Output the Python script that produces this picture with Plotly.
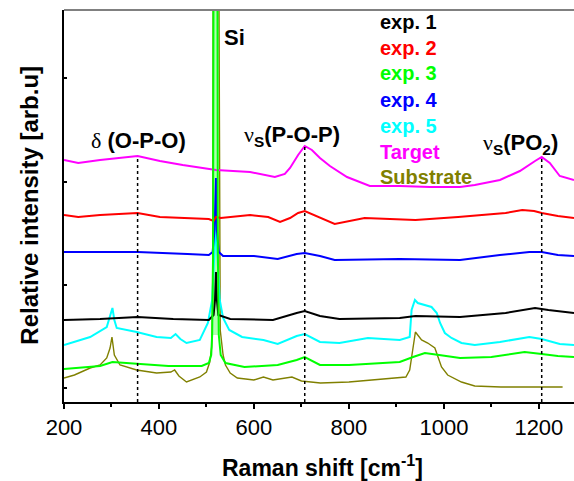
import numpy as np
import plotly.graph_objects as go

# ---------------- data (Raman shift in cm^-1, intensity in arb. units) ----------------
target_x = [200, 230, 276, 320, 355, 402, 450, 520, 592, 644, 665, 676, 693, 707, 722, 739, 760, 796,
            844, 907, 971, 1034, 1065, 1118, 1160, 1192, 1206, 1223, 1244, 1274]
target_y = [242, 239, 242, 244, 246, 241, 237, 232, 230, 225, 228, 234, 247, 256, 252, 244, 236, 225,
            216, 216, 215, 215, 217, 222, 231, 241, 245, 239, 226, 222]

exp2_x = [200, 230, 276, 355, 402, 460, 505, 515, 520, 530, 592, 630, 655, 676, 693, 707, 739, 770,
          833, 940, 1030, 1130, 1165, 1190, 1206, 1240, 1274]
exp2_y = [187, 185, 187, 189, 185, 184, 183, 181, 185, 184, 187, 185, 180, 184, 189, 191, 184, 178,
          184, 182, 185, 189, 192, 191, 189, 186, 184]

exp4_x = [200, 300, 355, 460, 505, 513, 517, 520, 522, 526, 535, 600, 650, 690, 707, 739, 770, 907,
          1034, 1118, 1180, 1206, 1240, 1274]
exp4_y = [150, 150, 150, 148, 147, 150, 172, 224, 172, 150, 146, 146, 143, 148, 149, 146, 142, 143,
          142, 147, 150, 150, 147, 146]

exp1_x = [200, 276, 355, 430, 505, 515, 518, 520, 522, 525, 550, 640, 690, 707, 739, 780, 907, 940,
          1034, 1130, 1192, 1220, 1274]
exp1_y = [82, 83, 85, 83, 82, 87, 102, 130, 102, 87, 83, 82, 89, 91, 86, 83, 84, 86,
          85, 89, 94, 92, 89]

exp5_x = [200, 233, 255, 290, 296, 302, 306, 311, 353, 395, 425, 435, 445, 458, 486, 503, 512, 516, 520, 524,
          528, 535, 548, 575, 620, 650, 690, 707, 739, 780, 840, 907, 928, 932, 939, 945, 960, 974,
          985, 992, 1002, 1016, 1037, 1065, 1118, 1180, 1206, 1244, 1274]
exp5_y = [57, 62, 65, 75, 84, 94, 82, 74, 70, 65, 64, 68, 63, 59, 62, 79, 102, 137, 182, 137,
          102, 84, 72, 65, 62, 58, 66, 68, 60, 59, 64, 62, 65, 92, 102, 99, 97, 95,
          89, 79, 69, 64, 59, 57, 60, 65, 63, 58, 57]

exp3_x = [200, 276, 302, 355, 420, 490, 505, 510, 512, 514, 516, 522, 524, 526, 530, 540, 580,
          650, 690, 707, 739, 800, 907, 935, 960, 990, 1034, 1100, 1170, 1206, 1240, 1274]
exp3_y = [33, 36, 40, 38, 36, 36, 39, 47, 67, 152, 802, 802, 152, 67, 47, 39, 35,
          37, 42, 45, 37, 37, 40, 45, 49, 47, 44, 45, 50, 48, 46, 45]

subs_x = [200, 222, 255, 276, 290, 297, 301, 306, 318, 353, 395, 425, 433, 442, 458, 486, 500, 507, 511,
          513, 515, 520, 524, 527, 529, 535, 540, 550, 565, 600, 620, 640, 680, 700, 740, 800, 880, 920,
          928, 935, 940, 953, 966, 981, 987, 995, 1008, 1037, 1065, 1120, 1200, 1250]
subs_y = [24, 27, 34, 37, 44, 54, 65, 47, 37, 32, 29, 30, 32, 26, 20, 25, 30, 40, 55,
          102, 702, 1002, 702, 152, 72, 47, 37, 29, 24, 22, 25, 22, 25, 21, 19, 20, 23, 25,
          32, 57, 70, 62, 59, 54, 45, 35, 27, 20, 16, 15, 15, 15]

band_positions = [355, 707, 1206]
x_ticks = [200, 400, 600, 800, 1000, 1200]

series = [
    ("Substrate", subs_x, subs_y, "#808000", 1.4),
    ("exp. 5", exp5_x, exp5_y, "#00ffff", 2),
    ("exp. 1", exp1_x, exp1_y, "#000000", 2),
    ("exp. 4", exp4_x, exp4_y, "#0000ff", 2),
    ("exp. 2", exp2_x, exp2_y, "#ff0000", 2),
    ("Target", target_x, target_y, "#ff00ff", 2),
    ("exp. 3", exp3_x, exp3_y, "#00ff00", 2),
]

legend_order = [("exp. 1", "#000000"), ("exp. 2", "#ff0000"), ("exp. 3", "#00ff00"),
                ("exp. 4", "#0000ff"), ("exp. 5", "#00ffff"), ("Target", "#ff00ff"),
                ("Substrate", "#808000")]

FONT = "Liberation Sans, Arial, sans-serif"
SERIF = "Liberation Serif, Times New Roman, serif"

fig = go.Figure()

# light fill inside the saturated Si peak of exp. 3
i0 = exp3_x.index(512)
i1 = exp3_x.index(526) + 1
fig.add_trace(go.Scatter(x=exp3_x[i0:i1], y=exp3_y[i0:i1], mode="lines", fill="toself",
                         fillcolor="rgba(130,255,130,0.6)", line=dict(width=0),
                         hoverinfo="skip", showlegend=False))

for name, xs, ys, col, w in series:
    fig.add_trace(go.Scatter(x=xs, y=ys, mode="lines", name=name,
                             line=dict(color=col, width=w), showlegend=False))

# dotted band markers from the Target curve down to the axis
for bp in band_positions:
    top = float(np.interp(bp, target_x, target_y))
    fig.add_shape(type="line", x0=bp, x1=bp, y0=0, y1=top, xref="x", yref="y",
                  line=dict(color="black", width=1.5, dash="dot"))

# top frame line
fig.add_shape(type="line", x0=0, x1=1, y0=1, y1=1, xref="paper", yref="paper",
              line=dict(color="#808080", width=2))

# legend as coloured text
leg_y = [380, 354, 329, 302, 276, 250, 225]
for (lab, col), yy in zip(legend_order, leg_y):
    fig.add_annotation(x=861, y=yy, xref="x", yref="y", text="<b>%s</b>" % lab, showarrow=False,
                       xanchor="left", yanchor="middle", font=dict(size=20, color=col, family=FONT))

nu = '<span style="font-family:%s">ν</span>' % SERIF
delta = '<span style="font-family:%s">δ</span>' % SERIF
labels = [
    (356, 262, delta + " <b>(O-P-O)</b>"),
    (681, 266, nu + "<sub><b>S</b></sub><b>(P-O-P)</b>"),
    (1162, 258, nu + "<sub><b>S</b></sub><b>(PO</b><sub><b>2</b></sub><b>)</b>"),
    (558, 365, "<b>Si</b>"),
]
for x, y, t in labels:
    fig.add_annotation(x=x, y=y, xref="x", yref="y", text=t, showarrow=False,
                       xanchor="center", yanchor="middle", font=dict(size=22, color="black", family=FONT))

# axis titles
fig.add_annotation(x=0.506, y=-0.162, xref="paper", yref="paper",
                   text="<b>Raman shift [cm<sup>-1</sup>]</b>", showarrow=False,
                   xanchor="center", yanchor="middle", font=dict(size=23, color="black", family=FONT))
fig.add_annotation(x=-0.067, y=0.503, xref="paper", yref="paper",
                   text="<b>Relative intensity [arb.u]</b>", showarrow=False, textangle=-90,
                   xanchor="center", yanchor="middle", font=dict(size=24, color="black", family=FONT))

fig.update_layout(
    width=574, height=481, autosize=False,
    margin=dict(l=64, r=0, t=10, b=79),
    paper_bgcolor="white", plot_bgcolor="white",
    font=dict(family=FONT, color="black"),
    xaxis=dict(range=[200, 1274], tickvals=x_ticks, ticktext=[str(v) for v in x_ticks],
               ticks="outside", ticklen=5, tickwidth=1.5, tickcolor="black",
               showline=True, linecolor="black", linewidth=1.5, showgrid=False, zeroline=False,
               tickfont=dict(size=22, family=FONT, color="black"),
               minor=dict(dtick=100, tick0=200, ticks="outside", ticklen=3, tickcolor="black", tickwidth=1.5)),
    yaxis=dict(range=[0, 392], tickvals=[14, 117, 220, 324], showticklabels=False,
               ticks="inside", ticklen=3, tickwidth=1.5, tickcolor="black",
               showline=True, linecolor="black", linewidth=1.5, showgrid=False, zeroline=False),
)

fig.write_html("out.html", config={"displayModeBar": False})

# remove the browser's default page margin so the figure sits at the window's corner
with open("out.html", "r", encoding="utf-8") as f:
    html = f.read()
html = html.replace("<head>", "<head><style>html,body{margin:0;padding:0;overflow:hidden;}</style>", 1)
with open("out.html", "w", encoding="utf-8") as f:
    f.write(html)
